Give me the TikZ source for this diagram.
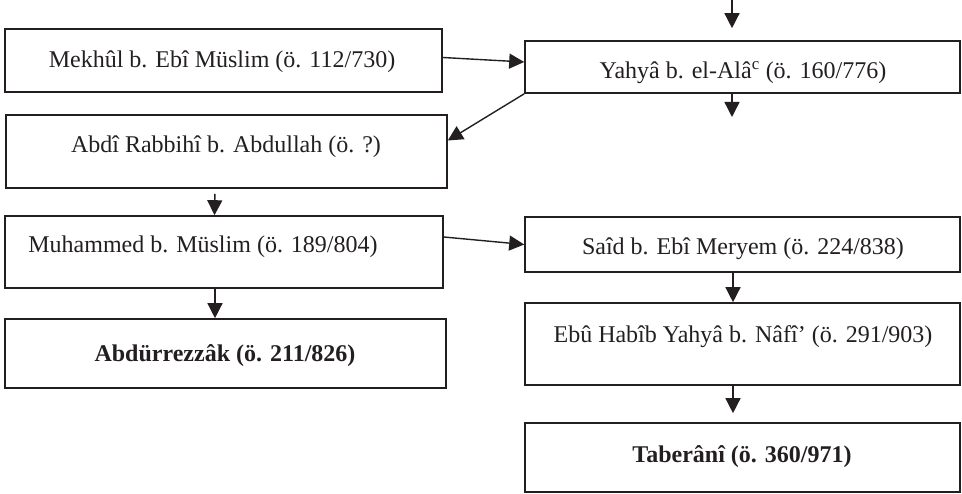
\documentclass[tikz,border=0pt]{standalone}
\usepackage{fontspec}
\setmainfont{Liberation Serif}
\usetikzlibrary{arrows.meta,calc}
\definecolor{ink}{HTML}{231F20}
\tikzset{
  box/.style={draw=ink, line width=1.6pt, rectangle, inner sep=0pt},
  lbl/.style={anchor=base, inner sep=0pt, text=ink, font=\fontsize{24}{28}\selectfont},
  conn/.style={draw=ink, line width=1.4pt, -{Triangle[width=15pt,length=15pt]}}
}
\begin{document}
\begin{tikzpicture}[x=1pt,y=-1pt]
\useasboundingbox (0,0) rectangle (962,494);
% boxes
\node[box, minimum width=437pt, minimum height=63pt] (mekhul) at (223.5,60.5) {};
\node[box, minimum width=441pt, minimum height=73pt] (abdi) at (226.5,151.5) {};
\node[box, minimum width=438pt, minimum height=72pt] (muhammed) at (224,252) {};
\node[box, minimum width=441pt, minimum height=69pt] (abdur) at (225.5,353.5) {};
\node[box, minimum width=435pt, minimum height=52pt] (yahya) at (742.5,67) {};
\node[box, minimum width=435pt, minimum height=55pt] (said) at (742.5,244.5) {};
\node[box, minimum width=435pt, minimum height=82pt] (ebu) at (742.5,344) {};
\node[box, minimum width=435pt, minimum height=69pt] (taberani) at (742.5,457.5) {};
% labels
\node[lbl] (tmekhul) at (222,68) {Mekhûl b. Ebî Müslim (ö. 112/730)};
\node[lbl] (tabdi) at (226,153) {Abdî Rabbihî b. Abdullah (ö. ?)};
\node[lbl] (tmuhammed) at (203,253) {Muhammed b. Müslim (ö. 189/804)};
\node[lbl, font=\fontsize{24}{28}\selectfont\bfseries] (tabdur) at (225,362) {Abdürrezzâk (ö. 211/826)};
\node[lbl] (tyahya) at (743,79) {Yahyâ b. el-Alâ\textsuperscript{c} (ö. 160/776)};
\node[lbl] (tsaid) at (743,255) {Saîd b. Ebî Meryem (ö. 224/838)};
\node[lbl] (tebu) at (743,343) {Ebû Habîb Yahyâ b. Nâfî’ (ö. 291/903)};
\node[lbl, font=\fontsize{24}{28}\selectfont\bfseries] (ttaberani) at (742,462) {Taberânî (ö. 360/971)};
% free ends
\coordinate (top) at (732,0);
\coordinate (yahyaout) at (732,117);
% connectors
\draw[conn] (top) -- ([xshift=-10.5pt,yshift=12pt]yahya.north);
\draw[conn] ([xshift=-10.5pt]yahya.south) -- (yahyaout);
\draw[conn] ([yshift=3pt]mekhul.east) -- ([yshift=5pt]yahya.west);
\draw[conn] (yahya.south west) -- ([yshift=11pt]abdi.east);
\draw[conn, shorten <=5pt] ([xshift=-11.5pt]abdi.south) -- ([xshift=-9.5pt]muhammed.north);
\draw[conn] ([xshift=-9pt]muhammed.south) -- ([xshift=-10.5pt]abdur.north);
\draw[conn] ([yshift=15pt]muhammed.east) -- (said.west);
\draw[conn] ([xshift=-9.5pt]said.south) -- ([xshift=-9.5pt]ebu.north);
\draw[conn, shorten <=-2pt] ([xshift=-9.5pt]ebu.south) -- ([xshift=-9.5pt,yshift=9pt]taberani.north);
\end{tikzpicture}
\end{document}
